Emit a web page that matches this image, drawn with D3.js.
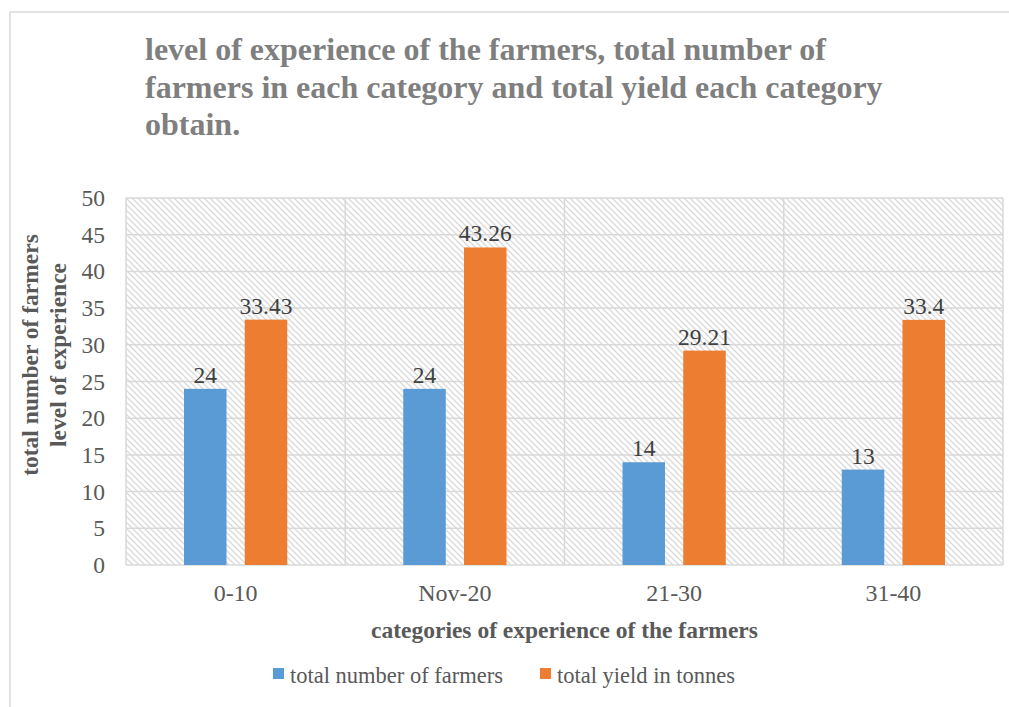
<!DOCTYPE html>
<html>
<head>
<meta charset="utf-8">
<script src="https://cdn.jsdelivr.net/npm/d3@7"></script>
<style>
  body { margin: 0; background: #fff; }
  svg { display: block; font-family: "Liberation Serif", "Times New Roman", serif; }
</style>
</head>
<body>
<div id="plot"></div>
<script>
window.addEventListener("load", main)

// chart data
const categories = ["0-10", "Nov-20", "21-30", "31-40"];
const seriesNames = ["total number of farmers", "total yield in tonnes"];
const farmers = [24, 24, 14, 13];
const yieldTonnes = [33.43, 43.26, 29.21, 33.4];
const yTicks = [0, 5, 10, 15, 20, 25, 30, 35, 40, 45, 50];
const titleLines = [
  "level of experience of the farmers, total number of",
  "farmers in each category and total yield each category",
  "obtain."
];
const yTitleLines = ["total number of farmers", "level of experience"];
const xTitle = "categories of experience of the farmers";

function main(){

  const width = 1009, height = 707;
  const colors = ["#5b9bd5", "#ed7d31"];
  const plot = {left: 126, right: 1003, top: 198, bottom: 565};

  let svg = d3.select("#plot").append("svg")
    .attr("width", width)
    .attr("height", height);

  // hatch pattern for the plot area
  let defs = svg.append("defs");
  defs.append("pattern")
    .attr("id", "hatch")
    .attr("patternUnits", "userSpaceOnUse")
    .attr("width", 6).attr("height", 6)
    .call(p => {
      p.append("rect").attr("width", 6).attr("height", 6).attr("fill", "#fff");
      p.append("path")
        .attr("d", "M-1,-1 L7,7 M-4,2 L4,10 M2,-4 L10,4")
        .attr("stroke", "#d9d9d9")
        .attr("stroke-width", 1.3);
    });

  // outer chart frame
  svg.append("rect")
    .attr("x", 10).attr("y", 12)
    .attr("width", 1020).attr("height", 720)
    .attr("fill", "none")
    .attr("stroke", "#d9d9d9")
    .attr("stroke-width", 1.5);

  // title
  svg.append("g").selectAll("text")
    .data(titleLines)
    .join("text")
      .attr("x", 145)
      .attr("y", (d, i) => 60 + i * 37.5)
      .attr("font-size", 32)
      .attr("font-weight", "bold")
      .attr("fill", "#7f7f7f")
      .text(d => d);

  // scales
  let x = d3.scaleBand().domain(categories).range([plot.left, plot.right]);
  let y = d3.scaleLinear().domain([0, 50]).range([plot.bottom, plot.top]);
  let xSub = d3.scaleBand().domain([0, 1])
    .range([58, x.bandwidth() - 58])
    .paddingInner(0.3);

  // plot area background
  svg.append("rect")
    .attr("x", plot.left).attr("y", plot.top)
    .attr("width", plot.right - plot.left)
    .attr("height", plot.bottom - plot.top)
    .attr("fill", "url(#hatch)");

  // horizontal gridlines
  svg.append("g").selectAll("line")
    .data(yTicks)
    .join("line")
      .attr("x1", plot.left).attr("x2", plot.right)
      .attr("y1", d => y(d)).attr("y2", d => y(d))
      .attr("stroke", "#d9d9d9")
      .attr("stroke-width", 1.5);

  // vertical gridlines at category boundaries
  let bounds = categories.map(c => x(c)).concat([plot.right]);
  svg.append("g").selectAll("line")
    .data(bounds)
    .join("line")
      .attr("x1", d => d).attr("x2", d => d)
      .attr("y1", plot.top).attr("y2", plot.bottom)
      .attr("stroke", "#d9d9d9")
      .attr("stroke-width", 1.5);

  // y tick labels
  svg.append("g").selectAll("text")
    .data(yTicks)
    .join("text")
      .attr("x", 105)
      .attr("y", d => y(d) + 8)
      .attr("text-anchor", "end")
      .attr("font-size", 23.5)
      .attr("fill", "#595959")
      .text(d => d);

  // bars
  let rows = categories.map((c, i) => ({cat: c, vals: [farmers[i], yieldTonnes[i]]}));
  let groups = svg.append("g").selectAll("g")
    .data(rows)
    .join("g")
      .attr("transform", d => `translate(${x(d.cat)},0)`);

  groups.selectAll("rect")
    .data(d => d.vals)
    .join("rect")
      .attr("x", (d, i) => xSub(i))
      .attr("width", xSub.bandwidth())
      .attr("y", d => y(d))
      .attr("height", d => y(0) - y(d))
      .attr("fill", (d, i) => colors[i]);

  groups.selectAll("text")
    .data(d => d.vals)
    .join("text")
      .attr("x", (d, i) => xSub(i) + xSub.bandwidth() / 2)
      .attr("y", d => y(d) - 6)
      .attr("text-anchor", "middle")
      .attr("font-size", 23.5)
      .attr("fill", "#404040")
      .text(d => d);

  // x tick labels
  svg.append("g").selectAll("text")
    .data(categories)
    .join("text")
      .attr("x", d => x(d) + x.bandwidth() / 2)
      .attr("y", 601)
      .attr("text-anchor", "middle")
      .attr("font-size", 24)
      .attr("fill", "#595959")
      .text(d => d);

  // x axis title
  svg.append("text")
    .attr("x", (plot.left + plot.right) / 2)
    .attr("y", 638)
    .attr("text-anchor", "middle")
    .attr("font-size", 23.5)
    .attr("font-weight", "bold")
    .attr("fill", "#595959")
    .text(xTitle);

  // y axis title
  svg.append("g").selectAll("text")
    .data(yTitleLines)
    .join("text")
      .attr("transform", (d, i) => `translate(${38 + i * 28},355) rotate(-90)`)
      .attr("text-anchor", "middle")
      .attr("font-size", 23.5)
      .attr("font-weight", "bold")
      .attr("fill", "#595959")
      .text(d => d);

  // legend
  let legendX = [273, 540];
  let legend = svg.append("g").selectAll("g")
    .data(seriesNames)
    .join("g")
      .attr("transform", (d, i) => `translate(${legendX[i]},668)`);
  legend.append("rect")
    .attr("width", 11).attr("height", 11)
    .attr("fill", (d, i) => colors[i]);
  legend.append("text")
    .attr("x", 17).attr("y", 15)
    .attr("font-size", 22.5)
    .attr("fill", "#595959")
    .text(d => d);
}
</script>
</body>
</html>
